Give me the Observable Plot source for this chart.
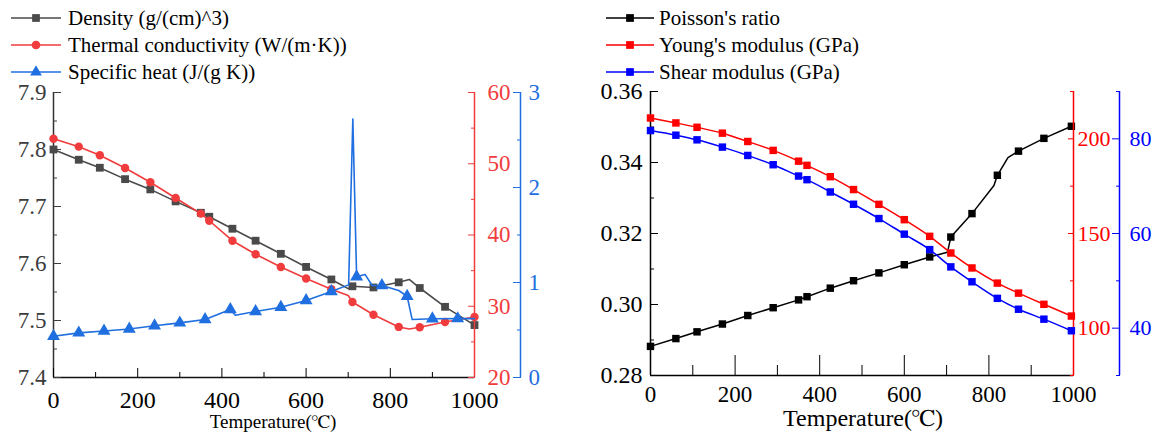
<!DOCTYPE html>
<html><head><meta charset="utf-8">
<script src="https://cdn.jsdelivr.net/npm/d3@7"></script>
<script src="https://cdn.jsdelivr.net/npm/@observablehq/plot@0.6"></script>
<style>
:root{--serif:"Liberation Serif","Tinos","Times New Roman","Times","Nimbus Roman","Nimbus Roman No9 L","FreeSerif","DejaVu Serif","Noto Serif",serif;}
body{margin:0;background:#fff;font-family:var(--serif);}
#root{position:relative;width:1155px;height:433px;overflow:hidden;background:#fff;font-family:var(--serif);}
#root svg, #root svg text{font-family:var(--serif) !important;}
.row{position:absolute;height:28px;display:flex;align-items:center;font-size:21px;white-space:nowrap;color:#000;font-family:var(--serif);}
.row svg{display:block;}
</style></head><body><div id="root"></div>
<script>
// ---------- shared x ----------
const xDomain = [0, 1000];
const xMajor = [0, 200, 400, 600, 800, 1000];
const xMinor = [100, 300, 500, 700, 900];
const xTitle = "Temperature(\u2103)";

// ---------- left panel data ----------
const tempA = [0,60,110,170,230,290,350,370,425,480,540,600,660,710,760,820,870,930,1000];
const density = [7.800,7.782,7.768,7.748,7.730,7.709,7.689,7.682,7.661,7.640,7.617,7.594,7.572,7.560,7.558,7.567,7.557,7.524,7.492];
const densityCurveT = [0,60,110,170,230,290,350,370,425,480,540,600,660,700,710,760,820,845,870,930,1000];
const densityCurve = [7.800,7.782,7.768,7.748,7.730,7.709,7.689,7.682,7.661,7.640,7.617,7.594,7.572,7.556,7.560,7.558,7.567,7.572,7.557,7.524,7.492];

const thermal = [53.5,52.4,51.2,49.4,47.4,45.2,43.0,42.0,39.2,37.3,35.5,33.9,32.4,30.6,28.8,27.1,27.05,27.8,28.5];
const thermalCurveT = [0,60,110,170,230,290,350,370,425,480,540,600,660,700,710,760,820,845,870,930,1000];
const thermalCurve = [53.5,52.4,51.2,49.4,47.4,45.2,43.0,42.0,39.2,37.3,35.5,33.9,32.4,31.5,30.6,28.8,27.1,26.8,27.05,27.8,28.5];

const tempCp = [0,60,120,180,240,300,360,420,480,540,600,660,720,780,840,900,960];
const specificHeat = [0.435,0.47,0.49,0.51,0.545,0.575,0.61,0.715,0.695,0.74,0.81,0.905,1.06,0.968,0.855,0.618,0.62];
const cpCurveT = [0,60,120,180,240,300,360,420,432,480,540,600,660,701,711,720,740,757,780,820,840,852,900,960,1000];
const cpCurve = [0.435,0.47,0.49,0.51,0.545,0.575,0.61,0.715,0.655,0.695,0.74,0.81,0.905,0.975,2.72,1.06,1.085,0.968,0.968,0.916,0.855,0.61,0.618,0.62,0.62];

const densityDomain = [7.4, 7.9], densityMajor = [7.4,7.5,7.6,7.7,7.8,7.9], densityMinor = [7.45,7.55,7.65,7.75,7.85];
const thermalDomain = [20, 60], thermalMajor = [20,30,40,50,60], thermalMinor = [25,35,45,55];
const cpDomain = [0, 3], cpMajor = [0,1,2,3], cpMinor = [0.5,1.5,2.5];

// ---------- right panel data ----------
const tempB = [0,60,110,170,230,290,350,370,425,480,540,600,660,710,760,820,870,930,995];
const poisson = [0.2882,0.2904,0.2923,0.2945,0.2969,0.2991,0.3013,0.3022,0.3046,0.3067,0.3089,0.3112,0.3134,0.3190,0.3256,0.3364,0.3432,0.3468,0.3502];
const poissonCurveT = [0,60,110,170,230,290,350,370,425,480,540,600,660,702,710,760,812,820,845,870,930,995];
const poissonCurve = [0.2882,0.2904,0.2923,0.2945,0.2969,0.2991,0.3013,0.3022,0.3046,0.3067,0.3089,0.3112,0.3134,0.3147,0.3190,0.3256,0.3335,0.3364,0.3414,0.3432,0.3468,0.3502];
const youngs = [211.0,208.4,206.1,203.0,198.6,193.9,188.2,186.0,180.0,173.2,165.4,157.3,148.5,139.7,131.8,123.8,118.5,112.6,106.4];
const shear = [81.75,80.77,79.79,78.25,76.49,74.53,72.14,71.37,68.77,66.18,63.16,59.86,56.6,52.95,49.8,46.3,44.0,41.9,39.45];

const poissonDomain = [0.28, 0.36], poissonMajor = [0.28,0.30,0.32,0.34,0.36], poissonMinor = [0.29,0.31,0.33,0.35];
const youngDomain = [75, 225], youngMajor = [100,150,200], youngMinor = [75,125,175,225];
const shearDomain = [30, 90], shearMajor = [40,60,80], shearMinor = [30,50,70,90];

// ---------- colours ----------
const cGray = "#4a4a4a", cRedL = "#f03c3c", cBlueL = "#1f6fe0";
const cBlack = "#000000", cRed = "#ff0000", cBlue = "#0000ff";

const root = document.getElementById("root");
const font = "Liberation Serif, Tinos, Times New Roman, DejaVu Serif, serif";
const intFmt = d => String(d);

function layer(geom, yDomain, marks) {
  const svg = Plot.plot({
    width: geom.width, height: geom.height,
    marginLeft: geom.ml, marginRight: geom.mr, marginTop: geom.mt, marginBottom: geom.mb,
    x: {domain: xDomain, axis: null},
    y: {domain: yDomain, axis: null},
    style: {background: "transparent", fontFamily: font, overflow: "visible"},
    marks
  });
  svg.setAttribute("font-family", font);
  svg.style.position = "absolute";
  svg.style.left = geom.left + "px";
  svg.style.top = geom.top + "px";
  svg.style.maxWidth = "none";
  svg.style.background = "transparent";
  root.appendChild(svg);
}

const GL = {left: 0, top: 84, width: 577, height: 349, ml: 53, mr: 103, mt: 8, mb: 56};
const GR = {left: 577, top: 84, width: 578, height: 349, ml: 73, mr: 82, mt: 7, mb: 58};
const blank = () => "";
const OFF = 46;

// ---------- LEFT PANEL ----------
layer(GL, densityDomain, [
  Plot.ruleY([densityDomain[0]], {stroke: "#111", strokeWidth: 1.5}),
  Plot.ruleX([xDomain[0]], {stroke: "#333", strokeWidth: 1.5}),
  Plot.axisX(xMajor, {anchor: "bottom", tickSize: -9, tickPadding: 22, fontSize: 24, color: "#000", label: null, tickFormat: intFmt}),
  Plot.axisX(xMinor, {anchor: "bottom", tickSize: -5, tickFormat: blank, color: "#000", label: null}),
  Plot.axisY(densityMajor, {anchor: "left", tickSize: -8, tickPadding: 15, fontSize: 23, color: "#3c3c3c", label: null, tickFormat: d3.format(".1f")}),
  Plot.axisY(densityMinor, {anchor: "left", tickSize: -4, tickFormat: blank, color: "#3c3c3c", label: null}),
  Plot.text([xTitle], {text: d => d, frameAnchor: "bottom", dy: 44, dx: 9, fontSize: 19, lineAnchor: "middle", fill: "#000"}),
  Plot.line(densityCurveT, {x: d => d, y: (d, i) => densityCurve[i], stroke: cGray, strokeWidth: 1.6}),
  Plot.dot(tempA, {x: d => d, y: (d, i) => density[i], symbol: "square", r: 4.4, fill: cGray, stroke: null})
]);
layer(GL, thermalDomain, [
  Plot.ruleX([xDomain[1]], {stroke: cRedL, strokeWidth: 1.5}),
  Plot.axisY(thermalMajor, {anchor: "right", tickSize: -7, tickPadding: 20, fontSize: 23, color: cRedL, label: null, tickFormat: intFmt}),
  Plot.axisY(thermalMinor, {anchor: "right", tickSize: -4, tickFormat: blank, color: cRedL, label: null}),
  Plot.line(thermalCurveT, {x: d => d, y: (d, i) => thermalCurve[i], stroke: cRedL, strokeWidth: 1.6}),
  Plot.dot(tempA, {x: d => d, y: (d, i) => thermal[i], symbol: "circle", r: 4.2, fill: cRedL, stroke: null})
]);
layer(GL, cpDomain, [
  Plot.ruleX([xDomain[1]], {dx: OFF, stroke: cBlueL, strokeWidth: 1.5}),
  Plot.axisY(cpMajor, {anchor: "right", dx: OFF, tickSize: -8, tickPadding: 16, fontSize: 23, color: cBlueL, label: null, tickFormat: intFmt}),
  Plot.axisY(cpMinor, {anchor: "right", dx: OFF, tickSize: -4, tickFormat: blank, color: cBlueL, label: null}),
  Plot.line(cpCurveT, {x: d => d, y: (d, i) => cpCurve[i], stroke: cBlueL, strokeWidth: 1.6}),
  Plot.dot(tempCp, {x: d => d, y: (d, i) => specificHeat[i], symbol: "triangle", r: 4.8, fill: cBlueL, stroke: null})
]);

// ---------- RIGHT PANEL ----------
layer(GR, poissonDomain, [
  Plot.ruleY([poissonDomain[0]], {stroke: "#000", strokeWidth: 1.5}),
  Plot.ruleX([xDomain[0]], {stroke: "#000", strokeWidth: 1.5}),
  Plot.axisX(xMajor, {anchor: "bottom", tickSize: -20, tickPadding: 30, fontSize: 23, color: "#000", label: null, tickFormat: intFmt}),
  Plot.axisX(xMinor, {anchor: "bottom", tickSize: -10, tickFormat: blank, color: "#000", label: null}),
  Plot.axisY(poissonMajor, {anchor: "left", tickSize: -8, tickPadding: 16, fontSize: 24, color: "#000", label: null, tickFormat: d3.format(".2f")}),
  Plot.axisY(poissonMinor, {anchor: "left", tickSize: -4, tickFormat: blank, color: "#000", label: null}),
  Plot.text([xTitle], {text: d => d, frameAnchor: "bottom", dy: 43, dx: 1, fontSize: 24, lineAnchor: "middle", fill: "#000"}),
  Plot.line(poissonCurveT, {x: d => d, y: (d, i) => poissonCurve[i], stroke: cBlack, strokeWidth: 1.5}),
  Plot.dot(tempB, {x: d => d, y: (d, i) => poisson[i], symbol: "square", r: 4.2, fill: cBlack, stroke: null})
]);
layer(GR, youngDomain, [
  Plot.ruleX([xDomain[1]], {stroke: cRed, strokeWidth: 1.5}),
  Plot.axisY(youngMajor, {anchor: "right", tickSize: -6, tickPadding: 10, fontSize: 22, color: cRed, label: null, tickFormat: intFmt}),
  Plot.axisY(youngMinor, {anchor: "right", tickSize: -4, tickFormat: blank, color: cRed, label: null}),
  Plot.line(tempB, {x: d => d, y: (d, i) => youngs[i], stroke: cRed, strokeWidth: 1.5, curve: "monotone-x"}),
  Plot.dot(tempB, {x: d => d, y: (d, i) => youngs[i], symbol: "square", r: 4.2, fill: cRed, stroke: null})
]);
layer(GR, shearDomain, [
  Plot.ruleX([xDomain[1]], {dx: OFF, stroke: cBlue, strokeWidth: 1.5}),
  Plot.axisY(shearMajor, {anchor: "right", dx: OFF, tickSize: -8, tickPadding: 18, fontSize: 22, color: cBlue, label: null, tickFormat: intFmt}),
  Plot.axisY(shearMinor, {anchor: "right", dx: OFF, tickSize: -4, tickFormat: blank, color: cBlue, label: null}),
  Plot.line(tempB, {x: d => d, y: (d, i) => shear[i], stroke: cBlue, strokeWidth: 1.5, curve: "monotone-x"}),
  Plot.dot(tempB, {x: d => d, y: (d, i) => shear[i], symbol: "square", r: 4.2, fill: cBlue, stroke: null})
]);

// ---------- legends ----------
const legendLeft = [
  {label: "Density (g/(cm)^3)", color: cGray, shape: "square"},
  {label: "Thermal conductivity (W/(m\u00b7K))", color: cRedL, shape: "circle"},
  {label: "Specific heat (J/(g K))", color: cBlueL, shape: "triangle"}
];
const legendRight = [
  {label: "Poisson's ratio", color: cBlack, shape: "square"},
  {label: "Young's modulus (GPa)", color: cRed, shape: "square"},
  {label: "Shear modulus (GPa)", color: cBlue, shape: "square"}
];
const rowY = [18, 45, 72];
function legend(items, x, swW, gap) {
  items.forEach((it, i) => {
    const row = document.createElement("div");
    row.className = "row";
    row.style.left = x + "px";
    row.style.top = (rowY[i] - 14) + "px";
    const ns = "http://www.w3.org/2000/svg";
    const s = document.createElementNS(ns, "svg");
    s.setAttribute("width", swW); s.setAttribute("height", 28);
    const ln = document.createElementNS(ns, "line");
    ln.setAttribute("x1", 0); ln.setAttribute("x2", swW); ln.setAttribute("y1", 14); ln.setAttribute("y2", 14);
    ln.setAttribute("stroke", it.color); ln.setAttribute("stroke-width", 1.6);
    s.appendChild(ln);
    const p = document.createElementNS(ns, "path");
    const sym = it.shape === "circle" ? d3.symbolCircle : it.shape === "triangle" ? d3.symbolTriangle : d3.symbolSquare;
    p.setAttribute("d", d3.symbol(sym, 60)());
    p.setAttribute("transform", `translate(${swW / 2},14)`);
    p.setAttribute("fill", it.color);
    s.appendChild(p);
    row.appendChild(s);
    const t = document.createElement("span");
    t.textContent = it.label;
    t.style.marginLeft = gap + "px";
    row.appendChild(t);
    root.appendChild(row);
  });
}
legend(legendLeft, 11, 50, 7);
legend(legendRight, 606, 48, 5);
</script>
</body></html>
